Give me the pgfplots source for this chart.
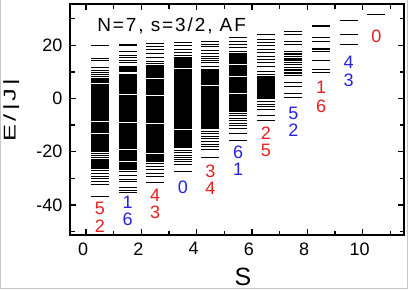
\documentclass[border=0pt]{standalone}
\usepackage{fontspec}
\setmainfont{Liberation Sans}
\newfontfamily\ylabfont[FakeStretch=1.5]{Liberation Sans}
\usepackage{pgfplots}
\pgfplotsset{compat=1.18}
\definecolor{lblred}{RGB}{232,30,30}
\definecolor{lblblue}{RGB}{35,35,225}
\begin{document}
\begin{tikzpicture}
\useasboundingbox (0,0) rectangle (409pt,290pt);
\draw[gray!45, line width=0.8pt] (0.4pt,290pt) -- (0.4pt,1.5pt) -- (407.6pt,1.5pt) -- (407.6pt,290pt);
\begin{axis}[
  at={(70pt,55pt)}, anchor=south west,
  scale only axis, width=334pt, height=231pt,
  xmin=-0.58, xmax=11.5, ymin=-51.3, ymax=35.5,
  xtick={0,2,...,10}, minor xtick={1,3,...,11},
  ytick={-40,-20,0,20}, minor ytick={-50,-30,-10,10,30},
  tick align=inside, major tick length=6pt, minor tick length=4.5pt,
  axis line style={line width=1.6pt},
  every tick/.style={line width=1.3pt, black},
  /pgf/number format/assume math mode=true,
  xticklabel style={font=\fontsize{18}{18}\selectfont, yshift=-4pt, xshift=-3pt},
  yticklabel style={font=\fontsize{18}{18}\selectfont, xshift=-4pt},
  xlabel={S},
  xlabel style={font=\fontsize{25}{25}\selectfont, at={(axis description cs:0.518,-0.182)}, anchor=center},
  ylabel={E\hspace{3pt}/\hspace{3pt}|\hspace{3pt}J\hspace{3pt}|},
  ylabel style={font=\ylabfont\fontsize{17}{17}\selectfont, inner sep=0pt, at={(axis description cs:-0.163,0.541)}, anchor=base},
]
% thin levels
\addplot[only marks, mark=-, mark size=9pt, mark options={line width=0.9pt, black}] coordinates {
(0.5,20.1) (0.5,15.0) (0.5,14.3) (0.5,11.6) (0.5,10.7) (0.5,9.9) (0.5,9.1) (0.5,8.2)
(0.5,-20.6) (0.5,-21.5) (0.5,-22.3) (0.5,-26.9) (0.5,-28.2) (0.5,-29.2) (0.5,-30.2) (0.5,-31.2) (0.5,-32.2) (0.5,-37.0)
(1.5,20.3) (1.5,19.8) (1.5,17.7) (1.5,16.1) (1.5,15.6) (1.5,14.2) (1.5,13.6) (1.5,8.9)
(1.5,-27.5) (1.5,-28.8) (1.5,-30.4) (1.5,-31.3) (1.5,-33.6) (1.5,-34.5) (1.5,-35.3)
(2.5,20.6) (2.5,19.5) (2.5,18.4) (2.5,16.9) (2.5,15.4) (2.5,14.0) (2.5,13.1)
(2.5,-24.6) (2.5,-25.7) (2.5,-26.6) (2.5,-28.2) (2.5,-29.2) (2.5,-31.7)
(3.5,21.0) (3.5,19.9) (3.5,18.6) (3.5,17.3) (3.5,16.0)
(3.5,-19.4) (3.5,-20.4) (3.5,-21.3) (3.5,-22.2) (3.5,-23.0) (3.5,-23.8) (3.5,-24.8) (3.5,-27.5)
(4.5,21.5) (4.5,20.2) (4.5,19.7) (4.5,18.1) (4.5,16.9) (4.5,15.9) (4.5,15.0) (4.5,14.2) (4.5,13.4) (4.5,12.1)
(4.5,-11.4) (4.5,-12.3) (4.5,-13.2) (4.5,-14.1) (4.5,-15.0) (4.5,-16.1) (4.5,-17.1) (4.5,-18.1) (4.5,-19.1) (4.5,-22.0)
(5.5,22.8) (5.5,21.5) (5.5,20.3) (5.5,19.0) (5.5,17.7)
(5.5,-5.5) (5.5,-6.5) (5.5,-7.4) (5.5,-8.3) (5.5,-9.3) (5.5,-10.3) (5.5,-11.2) (5.5,-13.1) (5.5,-15.6)
(6.5,24.0) (6.5,22.3) (6.5,21.0) (6.5,19.8) (6.5,18.5) (6.5,17.2) (6.5,15.9) (6.5,14.6) (6.5,13.4) (6.5,12.1) (6.5,10.2) (6.5,9.0)
(6.5,-1.2) (6.5,-2.2) (6.5,-3.1) (6.5,-4.3) (6.5,-6.2) (6.5,-8.3)
(7.5,25.3) (7.5,24.0) (7.5,21.5) (7.5,20.3) (7.5,17.7) (7.5,17.0) (7.5,16.4) (7.5,15.7) (7.5,15.2) (7.5,14.7) (7.5,14.2)
(7.5,13.4) (7.5,12.6) (7.5,11.8) (7.5,11.0) (7.5,10.4) (7.5,9.8) (7.5,9.3) (7.5,8.7) (7.5,6.0) (7.5,4.7) (7.5,1.9) (7.5,0.2)
(8.5,27.4) (8.5,27.0) (8.5,22.8) (8.5,21.5) (8.5,18.9) (8.5,18.4) (8.5,17.7) (8.5,14.3) (8.5,10.8) (8.5,9.9)
(9.5,29.2) (9.5,24.2) (9.5,20.4)
(10.5,31.5)
};
% dense bands of levels
\addplot[only marks, mark=-, mark size=9pt, mark options={line width=3pt, black}] coordinates {
(0.5,7.2) (0.5,6.2) (0.5,4.8) (0.5,3.8) (0.5,2.8) (0.5,1.8) (0.5,0.8) (0.5,-0.2) (0.5,-1.2) (0.5,-2.2) (0.5,-3.2)
(0.5,-4.2) (0.5,-5.2) (0.5,-6.2) (0.5,-7.2) (0.5,-8.0) (0.5,-9.4) (0.5,-10.4) (0.5,-11.4) (0.5,-12.4)
(0.5,-13.8) (0.5,-14.8) (0.5,-15.8) (0.5,-16.8) (0.5,-17.8) (0.5,-18.8) (0.5,-19.4)
(0.5,-23.2) (0.5,-24.2) (0.5,-25.2) (0.5,-25.9)
(1.5,11.5) (1.5,10.5) (1.5,8.2) (1.5,7.2) (1.5,6.2) (1.5,5.2) (1.5,4.2) (1.5,3.2) (1.5,2.2)
(1.5,0.8) (1.5,-0.2) (1.5,-1.2) (1.5,-2.2) (1.5,-3.2) (1.5,-4.2) (1.5,-5.2) (1.5,-6.2) (1.5,-7.2) (1.5,-8.2)
(1.5,-9.6) (1.5,-10.6) (1.5,-11.6) (1.5,-12.6) (1.5,-13.6) (1.5,-14.6) (1.5,-15.6) (1.5,-16.6) (1.5,-17.6) (1.5,-18.6)
(1.5,-20.0) (1.5,-21.0) (1.5,-22.0) (1.5,-23.0) (1.5,-24.4) (1.5,-25.4) (1.5,-26.2)
(2.5,12.2) (2.5,11.2) (2.5,10.2) (2.5,9.2) (2.5,8.2) (2.5,6.8) (2.5,5.8) (2.5,4.8) (2.5,3.8) (2.5,2.8) (2.5,1.8)
(2.5,0.4) (2.5,-0.6) (2.5,-1.6) (2.5,-2.6) (2.5,-3.6) (2.5,-4.6) (2.5,-5.6) (2.5,-6.6) (2.5,-7.6) (2.5,-8.6)
(2.5,-10.0) (2.5,-11.0) (2.5,-12.0) (2.5,-13.0) (2.5,-14.0) (2.5,-15.0) (2.5,-16.0) (2.5,-17.0) (2.5,-18.0) (2.5,-19.0) (2.5,-20.0)
(2.5,-21.4) (2.5,-22.4) (2.5,-23.2)
(3.5,15.0) (3.5,14.0) (3.5,13.0) (3.5,12.0) (3.5,10.6) (3.5,9.6) (3.5,8.6) (3.5,7.6) (3.5,6.6) (3.5,5.6) (3.5,4.6)
(3.5,3.6) (3.5,2.6) (3.5,1.6) (3.5,0.6) (3.5,-0.4) (3.5,-1.4) (3.5,-2.4) (3.5,-3.4) (3.5,-4.4) (3.5,-5.4) (3.5,-6.4)
(3.5,-7.4) (3.5,-8.4) (3.5,-9.4) (3.5,-10.4) (3.5,-11.0) (3.5,-12.4) (3.5,-13.4) (3.5,-14.4) (3.5,-15.4) (3.5,-16.4) (3.5,-17.4) (3.5,-18.2)
(4.5,10.6) (4.5,9.6) (4.5,8.6) (4.5,7.6) (4.5,6.6) (4.5,5.6) (4.5,4.2) (4.5,3.2) (4.5,2.2) (4.5,1.2) (4.5,0.2)
(4.5,-0.8) (4.5,-1.8) (4.5,-2.8) (4.5,-3.8) (4.5,-4.8) (4.5,-5.8) (4.5,-6.8) (4.5,-7.8) (4.5,-8.8) (4.5,-9.8) (4.5,-10.5)
(5.5,16.4) (5.5,15.4) (5.5,14.4) (5.5,13.4) (5.5,12.0) (5.5,11.0) (5.5,10.0) (5.5,9.0) (5.5,7.6) (5.5,6.6) (5.5,5.6)
(5.5,4.6) (5.5,3.6) (5.5,2.6) (5.5,1.2) (5.5,0.2) (5.5,-0.8) (5.5,-1.8) (5.5,-2.8) (5.5,-3.8) (5.5,-4.4)
(6.5,8.0) (6.5,7.0) (6.5,6.0) (6.5,5.0) (6.5,4.0) (6.5,3.0) (6.5,2.0) (6.5,1.0) (6.5,0.2)
};
\node[inner sep=0pt, anchor=base west, font=\fontsize{19}{19}\selectfont\addfontfeatures{LetterSpace=10}] at (axis description cs:0.081,0.879) {N=7, s=3/2, AF};
\begin{scope}[every node/.style={inner sep=0pt, font=\fontsize{18}{18}\selectfont}]
\node[text=lblred] at (axis cs:0.5,-41.4) {5};
\node[text=lblred] at (axis cs:0.5,-48.1) {2};
\node[text=lblblue] at (axis cs:1.5,-38.9) {1};
\node[text=lblblue] at (axis cs:1.5,-45.5) {6};
\node[text=lblred] at (axis cs:2.5,-36.3) {4};
\node[text=lblred] at (axis cs:2.5,-42.6) {3};
\node[text=lblblue] at (axis cs:3.5,-33.2) {0};
\node[text=lblred] at (axis cs:4.5,-27.3) {3};
\node[text=lblred] at (axis cs:4.5,-33.7) {4};
\node[text=lblblue] at (axis cs:5.5,-20.4) {6};
\node[text=lblblue] at (axis cs:5.5,-26.8) {1};
\node[text=lblred] at (axis cs:6.5,-13.0) {2};
\node[text=lblred] at (axis cs:6.5,-19.5) {5};
\node[text=lblblue] at (axis cs:7.5,-5.6) {5};
\node[text=lblblue] at (axis cs:7.5,-12.0) {2};
\node[text=lblred] at (axis cs:8.5,4.3) {1};
\node[text=lblred] at (axis cs:8.5,-2.8) {6};
\node[text=lblblue] at (axis cs:9.5,13.5) {4};
\node[text=lblblue] at (axis cs:9.5,6.8) {3};
\node[text=lblred] at (axis cs:10.5,23.4) {0};
\end{scope}
\end{axis}
\end{tikzpicture}
\end{document}
